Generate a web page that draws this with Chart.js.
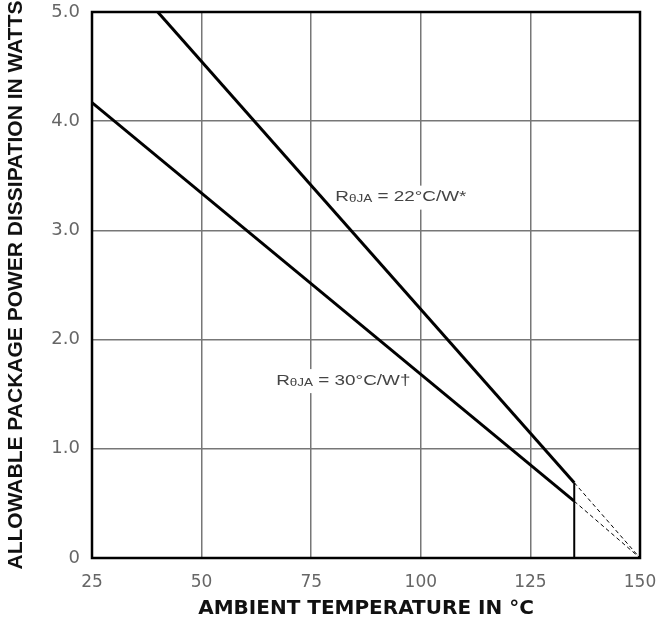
<!DOCTYPE html>
<html>
<head>
<meta charset="utf-8">
<script src="https://cdn.jsdelivr.net/npm/chart.js@4/dist/chart.umd.min.js"></script>
<style>
  html, body { margin: 0; padding: 0; background: #fff; }
  #wrap { width: 665px; height: 627px; }
</style>
</head>
<body>
<div id="wrap"><canvas id="chart"></canvas></div>
<script>
// derating curves (ambient temp in C, power in W)
const r22Temps = [40, 135, 150];
const r22Watts = [5.0, 0.69, 0];
const r30Temps = [25, 135, 150];
const r30Watts = [4.17, 0.52, 0];
const limitTemps = [135, 135];
const limitWatts = [0, 0.69];

const xTicks = [25, 50, 75, 100, 125, 150];
const yTicks = [0, 1, 2, 3, 4, 5];

const r22Label = { main: 'R', sub: 'θJA', rest: ' = 22°C/W*' };
const r30Label = { main: 'R', sub: 'θJA', rest: ' = 30°C/W†' };

function toPoints(xs, ys) {
  return xs.map((x, i) => ({ x: x, y: ys[i] }));
}

// past 135 C the curves turn into thin dashes
const dashedPast = {
  borderDash: ctx => ctx.p0.parsed.x >= 135 ? [4, 3] : undefined,
  borderWidth: ctx => ctx.p0.parsed.x >= 135 ? 1 : 3
};

const frameAndLabels = {
  id: 'frameAndLabels',
  // labels go under the curves but over the grid
  beforeDatasetsDraw(chart) {
    const { ctx, scales } = chart;
    const big = '14px "Liberation Sans", Arial, sans-serif';
    const small = '10px "Liberation Sans", Arial, sans-serif';
    const stretch = 1.35;
    const drawLabel = (lbl, tx, ty) => {
      const x = scales.x.getPixelForValue(tx);
      const y = scales.y.getPixelForValue(ty);
      ctx.save();
      ctx.textBaseline = 'middle';
      ctx.font = big;
      const w1 = ctx.measureText(lbl.main).width;
      const w3 = ctx.measureText(lbl.rest).width;
      ctx.font = small;
      const w2 = ctx.measureText(lbl.sub).width;
      ctx.translate(x, y);
      ctx.scale(stretch, 1);
      ctx.fillStyle = '#fff';
      ctx.fillRect(-3, -12, w1 + w2 + w3 + 6, 24);
      ctx.fillStyle = '#444';
      ctx.font = big;
      ctx.fillText(lbl.main, 0, 0);
      ctx.fillText(lbl.rest, w1 + w2, 0);
      ctx.font = small;
      ctx.fillText(lbl.sub, w1, 2);
      ctx.restore();
    };
    drawLabel(r22Label, 80.5, 3.3);
    drawLabel(r30Label, 67, 1.62);
  },
  afterDatasetsDraw(chart) {
    const { ctx, chartArea } = chart;
    ctx.save();
    ctx.strokeStyle = '#000';
    ctx.lineWidth = 2.5;
    ctx.strokeRect(chartArea.left, chartArea.top,
      chartArea.right - chartArea.left, chartArea.bottom - chartArea.top);
    ctx.restore();
  }
};

new Chart(document.getElementById('chart'), {
  type: 'line',
  data: {
    datasets: [
      { data: toPoints(r22Temps, r22Watts), segment: dashedPast },
      { data: toPoints(r30Temps, r30Watts), segment: dashedPast },
      { data: toPoints(limitTemps, limitWatts), borderWidth: 2 }
    ]
  },
  options: {
    responsive: true,
    maintainAspectRatio: false,
    animation: false,
    layout: { padding: { top: 12, right: 25, left: 0, bottom: 0 } },
    elements: {
      line: { borderColor: '#000', borderWidth: 3, tension: 0, fill: false },
      point: { radius: 0 }
    },
    plugins: {
      legend: { display: false },
      tooltip: { enabled: false }
    },
    scales: {
      x: {
        type: 'linear',
        min: 25,
        max: 150,
        afterBuildTicks: scale => { scale.ticks = xTicks.map(v => ({ value: v })); },
        afterFit: scale => {
          scale.height = 69;
          scale.paddingLeft = 0;
          scale.paddingRight = 0;
        },
        grid: { color: '#777', lineWidth: 1.5, drawTicks: false },
        border: { display: false },
        ticks: {
          padding: 14,
          color: '#666',
          font: { family: '"DejaVu Sans", sans-serif', size: 17 }
        },
        title: {
          display: true,
          text: 'AMBIENT TEMPERATURE IN °C',
          color: '#111',
          padding: { top: 0, bottom: 6 },
          font: { family: '"DejaVu Sans", sans-serif', size: 20, weight: 'bold' }
        }
      },
      y: {
        min: 0,
        max: 5,
        afterBuildTicks: scale => { scale.ticks = yTicks.map(v => ({ value: v })); },
        afterFit: scale => {
          scale.width = 92;
          scale.paddingTop = 0;
          scale.paddingBottom = 0;
        },
        grid: { color: '#777', lineWidth: 1.5, drawTicks: false },
        border: { display: false },
        ticks: {
          padding: 12,
          color: '#666',
          font: { family: '"DejaVu Sans", sans-serif', size: 18 },
          callback: v => v === 0 ? '0' : v.toFixed(1)
        },
        title: {
          display: true,
          text: 'ALLOWABLE PACKAGE POWER DISSIPATION IN WATTS',
          color: '#111',
          padding: { top: 4, bottom: 0 },
          font: { family: '"Liberation Sans", Arial, sans-serif', size: 21, weight: 'bold' }
        }
      }
    }
  },
  plugins: [frameAndLabels]
});
</script>
</body>
</html>
